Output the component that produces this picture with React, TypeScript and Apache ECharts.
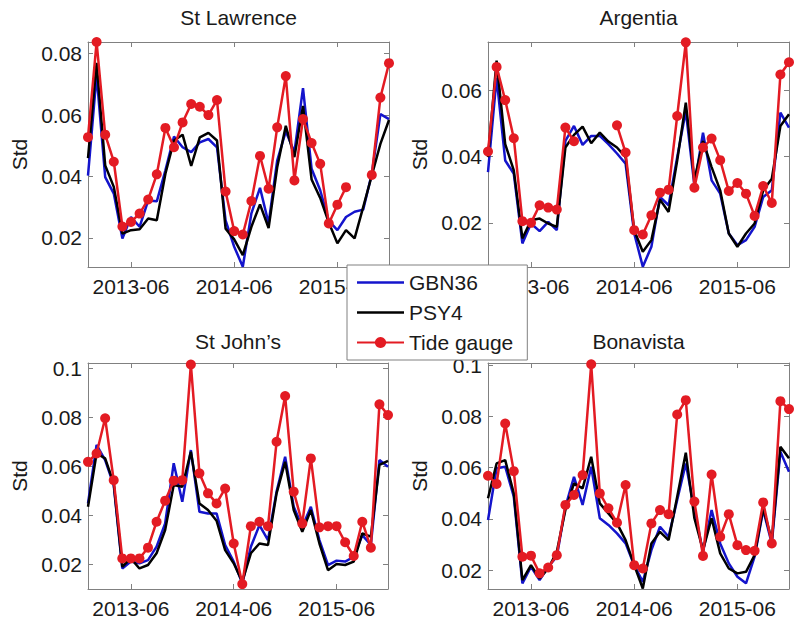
import React, { useEffect, useRef } from 'react';
import * as echarts from 'echarts';

// ---------- data ----------
const months = [
  '2013-01', '2013-02', '2013-03', '2013-04', '2013-05', '2013-06', '2013-07', '2013-08', '2013-09', '2013-10', '2013-11', '2013-12',
  '2014-01', '2014-02', '2014-03', '2014-04', '2014-05', '2014-06', '2014-07', '2014-08', '2014-09', '2014-10', '2014-11', '2014-12',
  '2015-01', '2015-02', '2015-03', '2015-04', '2015-05', '2015-06', '2015-07', '2015-08', '2015-09', '2015-10', '2015-11', '2015-12',
];
const xTickLabels = ['2013-06', '2014-06', '2015-06'];
const seriesNames = ['GBN36', 'PSY4', 'Tide gauge'];
const stationNames = ['St Lawrence', 'Argentia', 'St John\u2019s', 'Bonavista'];

const stLawrenceGBN = [0.0403, 0.0730, 0.0398, 0.0344, 0.0198, 0.0268, 0.0236, 0.0322, 0.0319, 0.0420, 0.0530, 0.0495, 0.0479, 0.0511, 0.0522, 0.0495, 0.0257, 0.0171, 0.0106, 0.0280, 0.0363, 0.0247, 0.0452, 0.0547, 0.0479, 0.0688, 0.0425, 0.0355, 0.0255, 0.0225, 0.0268, 0.0285, 0.0292, 0.0409, 0.0603, 0.0587];
const stLawrencePSY = [0.0460, 0.0770, 0.0436, 0.0366, 0.0214, 0.0225, 0.0228, 0.0263, 0.0257, 0.0409, 0.0517, 0.0536, 0.0434, 0.0527, 0.0542, 0.0517, 0.0230, 0.0195, 0.0144, 0.0236, 0.0309, 0.0232, 0.0430, 0.0565, 0.0463, 0.0630, 0.0390, 0.0330, 0.0250, 0.0182, 0.0225, 0.0198, 0.0300, 0.0403, 0.0506, 0.0584];
const stLawrenceTide = [0.0528, 0.0838, 0.0536, 0.0448, 0.0237, 0.0252, 0.0279, 0.0325, 0.0407, 0.0558, 0.0495, 0.0576, 0.0636, 0.0627, 0.0600, 0.0649, 0.0351, 0.0222, 0.0211, 0.0320, 0.0467, 0.0360, 0.0560, 0.0727, 0.0387, 0.0587, 0.0509, 0.0441, 0.0247, 0.0308, 0.0365, null, null, 0.0405, 0.0657, 0.0769];

const argentiaGBN = [0.0353, 0.0637, 0.0388, 0.0348, 0.0138, 0.0198, 0.0175, 0.0203, 0.0178, 0.0447, 0.0492, 0.0435, 0.0462, 0.0462, 0.0437, 0.0409, 0.0378, 0.0168, 0.0068, 0.0128, 0.0278, 0.0253, 0.0398, 0.0537, 0.0313, 0.0472, 0.0328, 0.0288, 0.0168, 0.0133, 0.0148, 0.0188, 0.0278, 0.0298, 0.0532, 0.0487];
const argentiaPSY = [0.0398, 0.0689, 0.0437, 0.0358, 0.0153, 0.0208, 0.0213, 0.0198, 0.0188, 0.0427, 0.0465, 0.0490, 0.0440, 0.0472, 0.0445, 0.0427, 0.0398, 0.0178, 0.0113, 0.0148, 0.0270, 0.0233, 0.0388, 0.0562, 0.0328, 0.0447, 0.0368, 0.0298, 0.0168, 0.0128, 0.0168, 0.0198, 0.0298, 0.0333, 0.0492, 0.0527];
const argentiaTide = [0.0415, 0.0670, 0.0570, 0.0455, 0.0205, 0.0200, 0.0253, 0.0246, 0.0240, 0.0487, 0.0446, null, null, null, null, 0.0494, 0.0412, 0.0178, 0.0165, 0.0223, 0.0291, 0.0300, 0.0522, 0.0744, 0.0306, 0.0427, 0.0454, 0.0389, 0.0296, 0.0320, 0.0288, 0.0221, 0.0311, 0.0260, 0.0647, 0.0684];

const stJohnsGBN = [0.0448, 0.0687, 0.0625, 0.0523, 0.0182, 0.0210, 0.0203, 0.0216, 0.0271, 0.0366, 0.0612, 0.0455, 0.0666, 0.0414, 0.0407, 0.0407, 0.0278, 0.0210, 0.0121, 0.0271, 0.0359, 0.0298, 0.0496, 0.0639, 0.0434, 0.0353, 0.0434, 0.0298, 0.0196, 0.0214, 0.0210, 0.0230, 0.0318, 0.0278, 0.0625, 0.0598];
const stJohnsPSY = [0.0434, 0.0652, 0.0632, 0.0530, 0.0189, 0.0223, 0.0182, 0.0196, 0.0244, 0.0339, 0.0523, 0.0516, 0.0659, 0.0448, 0.0421, 0.0377, 0.0257, 0.0203, 0.0128, 0.0244, 0.0284, 0.0278, 0.0489, 0.0618, 0.0421, 0.0332, 0.0421, 0.0284, 0.0175, 0.0200, 0.0196, 0.0210, 0.0325, 0.0312, 0.0605, 0.0622];
const stJohnsTide = [0.0618, 0.0652, 0.0796, 0.0543, 0.0223, 0.0223, 0.0223, 0.0267, 0.0373, 0.0459, 0.0541, 0.0543, 0.1016, 0.0571, 0.0489, 0.0448, 0.0509, 0.0284, 0.0118, 0.0355, 0.0373, 0.0355, 0.0700, 0.0887, 0.0496, 0.0366, 0.0632, 0.0350, 0.0355, 0.0355, 0.0289, 0.0233, 0.0373, 0.0267, 0.0853, 0.0809];

const bonavistaGBN = [0.0395, 0.0597, 0.0603, 0.0486, 0.0148, 0.0213, 0.0161, 0.0213, 0.0252, 0.0447, 0.0564, 0.0454, 0.0603, 0.0402, 0.0376, 0.0343, 0.0304, 0.0219, 0.0154, 0.0278, 0.0369, 0.0330, 0.0473, 0.0616, 0.0434, 0.0271, 0.0434, 0.0304, 0.0226, 0.0174, 0.0148, 0.0252, 0.0434, 0.0304, 0.0662, 0.0584];
const bonavistaPSY = [0.0480, 0.0616, 0.0629, 0.0499, 0.0161, 0.0219, 0.0167, 0.0206, 0.0271, 0.0434, 0.0538, 0.0519, 0.0642, 0.0460, 0.0421, 0.0382, 0.0317, 0.0219, 0.0128, 0.0304, 0.0349, 0.0317, 0.0486, 0.0658, 0.0402, 0.0278, 0.0402, 0.0265, 0.0206, 0.0187, 0.0193, 0.0258, 0.0441, 0.0317, 0.0681, 0.0636];
const bonavistaTide = [0.0568, 0.0536, 0.0772, 0.0586, 0.0252, 0.0256, 0.0187, 0.0210, 0.0258, 0.0454, 0.0493, 0.0571, 0.1003, 0.0499, 0.0441, 0.0385, 0.0532, 0.0219, 0.0206, 0.0382, 0.0434, 0.0418, 0.0807, 0.0863, 0.0467, 0.0255, 0.0573, 0.0330, 0.0418, 0.0297, 0.0278, 0.0275, 0.0464, 0.0304, 0.0859, 0.0828];

const yRangeStLawrence = [0.0105, 0.0838];
const yRangeArgentia = [0.0067, 0.0745];
const yRangeStJohns = [0.0098, 0.1022];
const yRangeBonavista = [0.0126, 0.1008];

const yTicksStLawrence = [0.02, 0.04, 0.06, 0.08];
const yTicksArgentia = [0.02, 0.04, 0.06];
const yTicksStJohns = [0.02, 0.04, 0.06, 0.08, 0.1];
const yTicksBonavista = [0.02, 0.04, 0.06, 0.08, 0.1];

// ---------- layout / style ----------
const FONT = '"Liberation Sans", Arial, Helvetica, sans-serif';
const FS = 21;
const AXIS_COLOR = '#808080';
const TEXT_COLOR = '#1a1a1a';
const COLORS = ['#1414cc', '#000000', '#e31b23'];
const LINE_ICON = 'path://M0,0L47,0L47,2.5L0,2.5Z';

const panels = [
  { title: stationNames[0], data: [stLawrenceGBN, stLawrencePSY, stLawrenceTide], range: yRangeStLawrence, ticks: yTicksStLawrence, left: 88, top: 42, width: 301, height: 225, titleY: 7 },
  { title: stationNames[1], data: [argentiaGBN, argentiaPSY, argentiaTide], range: yRangeArgentia, ticks: yTicksArgentia, left: 488, top: 42, width: 301, height: 225, titleY: 7 },
  { title: stationNames[2], data: [stJohnsGBN, stJohnsPSY, stJohnsTide], range: yRangeStJohns, ticks: yTicksStJohns, left: 88, top: 363, width: 300, height: 226, titleY: 331 },
  { title: stationNames[3], data: [bonavistaGBN, bonavistaPSY, bonavistaTide], range: yRangeBonavista, ticks: yTicksBonavista, left: 488, top: 363, width: 301, height: 226, titleY: 331 },
];

const isTick = (_idx: number, val: string) => xTickLabels.indexOf(val) >= 0;

function buildOption() {
  const grid: any[] = [];
  const xAxis: any[] = [];
  const yAxis: any[] = [];
  const series: any[] = [];
  const title: any[] = [];

  panels.forEach((p, i) => {
    grid.push({ left: p.left, top: p.top, width: p.width, height: p.height, show: false });
    title.push({
      text: p.title,
      left: p.left + p.width / 2,
      top: p.titleY,
      textAlign: 'center',
      padding: 0,
      textStyle: { fontFamily: FONT, fontSize: FS, fontWeight: 'normal', color: TEXT_COLOR },
    });
    xAxis.push({
      type: 'category',
      gridIndex: i,
      data: months,
      boundaryGap: false,
      position: 'bottom',
      axisLine: { show: true, onZero: false, lineStyle: { color: AXIS_COLOR, width: 1 } },
      axisTick: { show: true, inside: true, length: 5, interval: isTick, lineStyle: { color: AXIS_COLOR } },
      axisLabel: { show: true, interval: isTick, margin: 9, fontFamily: FONT, fontSize: FS, color: TEXT_COLOR },
      splitLine: { show: false },
    });
    xAxis.push({
      type: 'category',
      gridIndex: i,
      data: months,
      boundaryGap: false,
      position: 'top',
      axisLine: { show: true, onZero: false, lineStyle: { color: AXIS_COLOR, width: 1 } },
      axisTick: { show: true, inside: true, length: 5, interval: isTick, lineStyle: { color: AXIS_COLOR } },
      axisLabel: { show: false },
      splitLine: { show: false },
    });
    yAxis.push({
      type: 'value',
      gridIndex: i,
      min: p.range[0],
      max: p.range[1],
      position: 'left',
      name: 'Std',
      nameLocation: 'middle',
      nameGap: 58,
      nameTextStyle: { fontFamily: FONT, fontSize: FS, color: TEXT_COLOR },
      axisLine: { show: true, onZero: false, lineStyle: { color: AXIS_COLOR, width: 1 } },
      axisTick: { show: true, inside: true, length: 5, customValues: p.ticks, lineStyle: { color: AXIS_COLOR } },
      axisLabel: { show: true, margin: 6, customValues: p.ticks, fontFamily: FONT, fontSize: FS, color: TEXT_COLOR, formatter: (v: number) => String(Number(v.toFixed(3))) },
      splitLine: { show: false },
    });
    yAxis.push({
      type: 'value',
      gridIndex: i,
      min: p.range[0],
      max: p.range[1],
      position: 'right',
      axisLine: { show: true, onZero: false, lineStyle: { color: AXIS_COLOR, width: 1 } },
      axisTick: { show: true, inside: true, length: 5, customValues: p.ticks, lineStyle: { color: AXIS_COLOR } },
      axisLabel: { show: false },
      splitLine: { show: false },
    });

    p.data.forEach((vals, k) => {
      const isTide = k === 2;
      series.push({
        type: 'line',
        name: seriesNames[k],
        xAxisIndex: i * 2,
        yAxisIndex: i * 2,
        data: vals,
        connectNulls: false,
        showSymbol: isTide,
        showAllSymbol: true,
        symbol: isTide ? 'circle' : 'none',
        symbolSize: 10,
        lineStyle: { color: COLORS[k], width: 2.5 },
        itemStyle: { color: COLORS[k] },
        emphasis: { disabled: true },
        z: 2 + k,
      });
    });
  });

  return {
    animation: false,
    backgroundColor: '#ffffff',
    title,
    grid,
    xAxis,
    yAxis,
    series,
    legend: {
      show: true,
      orient: 'vertical',
      left: 347,
      top: 265,
      data: [
        { name: seriesNames[0], icon: LINE_ICON },
        { name: seriesNames[1], icon: LINE_ICON },
        { name: seriesNames[2] },
      ],
      itemWidth: 47,
      itemHeight: 14,
      itemGap: 9,
      padding: [7, 14, 7, 9],
      backgroundColor: '#ffffff',
      borderColor: AXIS_COLOR,
      borderWidth: 1,
      borderRadius: 0,
      selectedMode: false,
      textStyle: { fontFamily: FONT, fontSize: FS, color: TEXT_COLOR, lineHeight: 20 },
      z: 10,
    },
  };
}

export default function App() {
  const ref = useRef<HTMLDivElement>(null);
  useEffect(() => {
    if (!ref.current) return;
    const chart = echarts.init(ref.current, null, { renderer: 'svg' });
    chart.setOption(buildOption() as any);
    return () => {
      chart.dispose();
    };
  }, []);
  return (
    <div
      ref={ref}
      style={{ position: 'absolute', left: 0, top: 0, width: 796, height: 624, background: '#fff' }}
    />
  );
}
